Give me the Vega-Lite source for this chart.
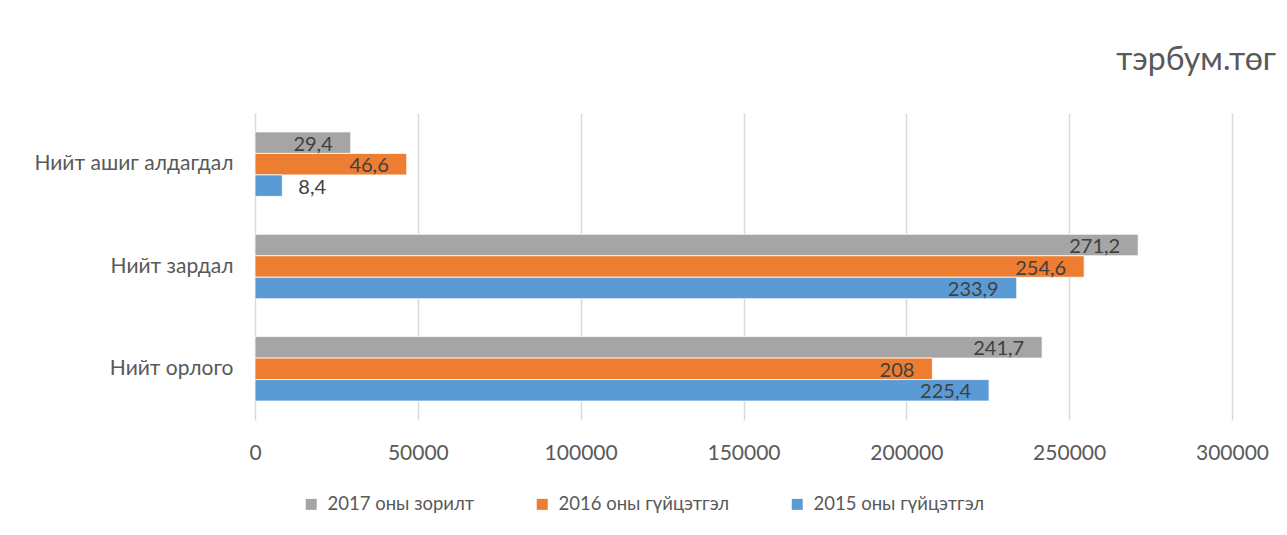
{
  "$schema": "https://vega.github.io/schema/vega-lite/v6.json",
  "autosize": "none",
  "width": 977,
  "height": 307,
  "padding": {"left": 255, "top": 113, "right": 55, "bottom": 115},
  "background": "white",
  "config": {"view": {"stroke": null}},
  "title": {
    "text": "тэрбум.төг",
    "anchor": "end",
    "frame": "group",
    "dx": 44,
    "offset": 36,
    "font": "Lato",
    "fontSize": 32,
    "fontWeight": "normal",
    "color": "#595959"
  },
  "data": {
    "values": [
      {"category": "Нийт ашиг алдагдал", "series": "2017 оны зорилт", "value": 29400, "label": "29,4"},
      {"category": "Нийт ашиг алдагдал", "series": "2016 оны гүйцэтгэл", "value": 46600, "label": "46,6"},
      {"category": "Нийт ашиг алдагдал", "series": "2015 оны гүйцэтгэл", "value": 8400, "label": "8,4"},
      {"category": "Нийт зардал", "series": "2017 оны зорилт", "value": 271200, "label": "271,2"},
      {"category": "Нийт зардал", "series": "2016 оны гүйцэтгэл", "value": 254600, "label": "254,6"},
      {"category": "Нийт зардал", "series": "2015 оны гүйцэтгэл", "value": 233900, "label": "233,9"},
      {"category": "Нийт орлого", "series": "2017 оны зорилт", "value": 241700, "label": "241,7"},
      {"category": "Нийт орлого", "series": "2016 оны гүйцэтгэл", "value": 208000, "label": "208"},
      {"category": "Нийт орлого", "series": "2015 оны гүйцэтгэл", "value": 225400, "label": "225,4"}
    ]
  },
  "encoding": {
    "y": {
      "field": "category",
      "type": "nominal",
      "sort": ["Нийт ашиг алдагдал", "Нийт зардал", "Нийт орлого"],
      "scale": {"paddingInner": 0.37, "paddingOuter": 0.185},
      "axis": {
        "title": null,
        "domain": false,
        "ticks": false,
        "labelFont": "Lato",
        "labelFontSize": 21,
        "labelColor": "#595959",
        "labelPadding": 22,
        "labelLimit": 400
      }
    },
    "yOffset": {
      "field": "series",
      "type": "nominal",
      "sort": ["2017 оны зорилт", "2016 оны гүйцэтгэл", "2015 оны гүйцэтгэл"],
      "scale": {"paddingInner": 0, "paddingOuter": 0}
    },
    "x": {
      "field": "value",
      "type": "quantitative",
      "scale": {"domain": [0, 300000], "nice": false},
      "axis": {
        "title": null,
        "values": [0, 50000, 100000, 150000, 200000, 250000, 300000],
        "format": "d",
        "domain": false,
        "ticks": false,
        "grid": true,
        "gridColor": "#d9d9d9",
        "gridWidth": 1.5,
        "labelFont": "Lato",
        "labelFontSize": 21,
        "labelColor": "#595959",
        "labelPadding": 22,
        "labelFlush": false
      }
    }
  },
  "layer": [
    {
      "mark": {"type": "bar", "stroke": "white", "strokeWidth": 0.8},
      "encoding": {
        "color": {
          "field": "series",
          "type": "nominal",
          "sort": ["2017 оны зорилт", "2016 оны гүйцэтгэл", "2015 оны гүйцэтгэл"],
          "scale": {
            "domain": ["2017 оны зорилт", "2016 оны гүйцэтгэл", "2015 оны гүйцэтгэл"],
            "range": ["#A5A5A5", "#ED7D31", "#5B9BD5"]
          },
          "legend": {
            "title": null,
            "orient": "none",
            "legendX": 47,
            "legendY": 382,
            "direction": "horizontal",
            "symbolType": "square",
            "symbolSize": 121,
            "symbolStrokeWidth": 0,
            "labelFont": "Lato",
            "labelFontSize": 18.5,
            "labelColor": "#595959",
            "labelOffset": 7,
            "columnPadding": 58,
            "labelLimit": 400
          }
        }
      }
    },
    {
      "mark": {
        "type": "text",
        "font": "Lato",
        "fontSize": 20,
        "color": "#404040",
        "baseline": "middle",
        "dy": 2,
        "align": {"expr": "datum.value < 20000 ? 'left' : 'right'"},
        "dx": {"expr": "datum.value < 20000 ? 16 : -18"}
      },
      "encoding": {
        "text": {"field": "label", "type": "nominal"}
      }
    }
  ]
}
